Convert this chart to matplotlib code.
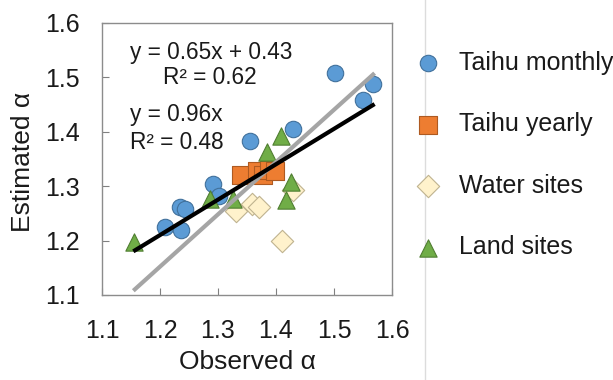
import matplotlib
matplotlib.use("Agg")
import matplotlib.pyplot as plt
import numpy as np
from matplotlib.lines import Line2D

plt.rcParams['font.family'] = ['Liberation Sans', 'DejaVu Sans']

# Data
monthly_x = [1.502, 1.568, 1.550, 1.429, 1.355, 1.292, 1.302, 1.234, 1.243, 1.209, 1.237]
monthly_y = [1.508, 1.487, 1.458, 1.405, 1.383, 1.303, 1.281, 1.262, 1.257, 1.224, 1.219]
yearly_x = [1.339, 1.368, 1.378, 1.388, 1.398]
yearly_y = [1.320, 1.328, 1.320, 1.329, 1.328]
water_x = [1.331, 1.358, 1.371, 1.430, 1.410]
water_y = [1.254, 1.267, 1.261, 1.292, 1.200]
land_x = [1.156, 1.286, 1.326, 1.384, 1.409, 1.425, 1.417]
land_y = [1.197, 1.276, 1.276, 1.363, 1.391, 1.308, 1.274]

fit_range = [1.154, 1.570]
lin_slope, lin_icpt = 0.65, 0.43
orig_slope = 0.96

ticks = [1.1, 1.2, 1.3, 1.4, 1.5, 1.6]
tick_labels = ['1.1', '1.2', '1.3', '1.4', '1.5', '1.6']

W, H = 613, 380
fig = plt.figure(figsize=(W / 100, H / 100), dpi=100)
ax = fig.add_axes([102 / W, 1 - 295 / H, 290 / W, 272.4 / H])

ax.scatter(monthly_x, monthly_y, s=140, marker='o', facecolor='#5B9BD5',
           edgecolor='#41719C', linewidth=0.8, zorder=3, label='Taihu monthly')
ax.scatter(yearly_x, yearly_y, s=155, marker='s', facecolor='#ED7D31',
           edgecolor='#AE5A21', linewidth=0.8, zorder=3, label='Taihu yearly')
ax.scatter(water_x, water_y, s=130, marker='D', facecolor='#FFF2CC',
           edgecolor='#BFB38F', linewidth=0.8, zorder=3, label='Water sites')
ax.scatter(land_x, land_y, s=155, marker='^', facecolor='#70AD47',
           edgecolor='#507E32', linewidth=0.8, zorder=3, label='Land sites')

xr = np.array(fit_range)
ax.plot(xr, orig_slope * xr, color='#A5A5A5', lw=3, zorder=4, solid_capstyle='butt')
ax.plot(xr, lin_slope * xr + lin_icpt, color='black', lw=3, zorder=5, solid_capstyle='butt')

ax.set_xlim(1.1, 1.6)
ax.set_ylim(1.1, 1.6)
ax.set_xticks(ticks)
ax.set_xticklabels(tick_labels)
ax.set_yticks(ticks)
ax.set_yticklabels(tick_labels)
ax.tick_params(direction='in', length=5, width=0.8, color='#808080',
               labelsize=18, labelcolor='#1a1a1a')
ax.tick_params(axis='y', pad=16)
ax.tick_params(axis='x', pad=17)
for sp in ax.spines.values():
    sp.set_color('#8c8c8c')
    sp.set_linewidth(1.0)

ax.set_xlabel('Observed α', fontsize=19, color='#1a1a1a', va='center', ha='center')
ax.xaxis.set_label_coords(0.5, (295 - 362) / 272.4)
ax.set_ylabel('Estimated α', fontsize=19, color='#1a1a1a', va='center', ha='center')
ax.yaxis.set_label_coords((23 - 102) / 290, (295 - 162) / 272.4)

eq_texts = [
    (130, 52, 'y = 0.65x + 0.43'),
    (163, 78, 'R² = 0.62'),
    (130, 115, 'y = 0.96x'),
    (130, 142, 'R² = 0.48'),
]
for px, py, s in eq_texts:
    fig.text(px / W, 1 - py / H, s, fontsize=16.3, va='center', ha='left',
             color='#1a1a1a')

leg = fig.legend(loc='upper left', bbox_to_anchor=(405 / W, 1 - 41 / H),
                 frameon=False, fontsize=18, handletextpad=0.75,
                 labelspacing=1.5, borderaxespad=0, handlelength=1.0)
for txt in leg.get_texts():
    txt.set_color('#1a1a1a')

fig.add_artist(Line2D([425 / W, 425 / W], [0, 1], transform=fig.transFigure,
                      color='#dcdcdc', lw=1))

fig.savefig('out.png', dpi=100)
